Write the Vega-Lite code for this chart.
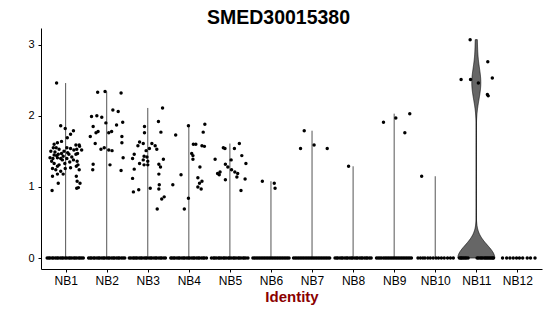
{
"$schema":"https://vega.github.io/schema/vega-lite/v6.json",
"width":501,"height":241,
"autosize":{"type":"none"},
"padding":{"left":41,"top":28,"right":8,"bottom":47},
"title":{"text":"SMED30015380","fontSize":19.5,"font":"Liberation Sans","fontWeight":"bold","color":"#000","anchor":"middle","frame":"group","baseline":"alphabetic","offset":5,"dx":-13,"dy":20},
"config":{"view":{"stroke":null},"axis":{"grid":false,"domainColor":"#000","domainWidth":1,"tickColor":"#000","tickSize":3,"tickWidth":1,"labelFont":"Liberation Sans","labelFontSize":11,"labelColor":"#000","titleFont":"Liberation Sans"}},
"data":{"values":[
{"c":"NB1","v":2.46,"j":-0.22},{"c":"NB1","v":1.86,"j":-0.12},{"c":"NB1","v":1.82,"j":-0.01},{"c":"NB1","v":1.79,"j":0.19},{"c":"NB1","v":1.74,"j":0.12},{"c":"NB1","v":1.69,"j":0.04},{"c":"NB1","v":1.64,"j":-0.1},{"c":"NB1","v":1.62,"j":-0.2},{"c":"NB1","v":1.6,"j":-0.28},{"c":"NB1","v":1.59,"j":0.25},{"c":"NB1","v":1.57,"j":0.34},{"c":"NB1","v":1.55,"j":-0.3},{"c":"NB1","v":1.55,"j":-0.23},{"c":"NB1","v":1.53,"j":-0.16},{"c":"NB1","v":1.55,"j":0.03},{"c":"NB1","v":1.54,"j":0.12},{"c":"NB1","v":1.53,"j":0.27},{"c":"NB1","v":1.5,"j":-0.36},{"c":"NB1","v":1.49,"j":-0.26},{"c":"NB1","v":1.46,"j":-0.18},{"c":"NB1","v":1.47,"j":-0.1},{"c":"NB1","v":1.43,"j":-0.06},{"c":"NB1","v":1.46,"j":0.08},{"c":"NB1","v":1.46,"j":0.25},{"c":"NB1","v":1.41,"j":-0.38},{"c":"NB1","v":1.4,"j":-0.31},{"c":"NB1","v":1.41,"j":-0.2},{"c":"NB1","v":1.4,"j":-0.12},{"c":"NB1","v":1.4,"j":0.03},{"c":"NB1","v":1.38,"j":0.19},{"c":"NB1","v":1.36,"j":0.28},{"c":"NB1","v":1.33,"j":-0.28},{"c":"NB1","v":1.31,"j":-0.16},{"c":"NB1","v":1.33,"j":-0.02},{"c":"NB1","v":1.26,"j":-0.32},{"c":"NB1","v":1.24,"j":-0.24},{"c":"NB1","v":1.22,"j":-0.12},{"c":"NB1","v":1.26,"j":-0.01},{"c":"NB1","v":1.27,"j":0.12},{"c":"NB1","v":1.29,"j":0.26},{"c":"NB1","v":1.31,"j":0.3},{"c":"NB1","v":1.15,"j":-0.32},{"c":"NB1","v":1.18,"j":-0.2},{"c":"NB1","v":1.18,"j":-0.06},{"c":"NB1","v":1.15,"j":0.26},{"c":"NB1","v":1.05,"j":-0.18},{"c":"NB1","v":1.08,"j":0.28},{"c":"NB1","v":0.99,"j":0.31},{"c":"NB1","v":1.59,"j":0.33},{"c":"NB1","v":1.52,"j":0.39},{"c":"NB1","v":1.47,"j":0.29},{"c":"NB1","v":1.24,"j":0.33},{"c":"NB1","v":1.05,"j":0.35},{"c":"NB1","v":0.98,"j":0.27},{"c":"NB1","v":1.44,"j":-0.22},{"c":"NB1","v":1.38,"j":-0.08},{"c":"NB1","v":1.35,"j":0.1},{"c":"NB1","v":1.48,"j":0.05},{"c":"NB1","v":1.42,"j":0.15},{"c":"NB1","v":1.5,"j":-0.04},{"c":"NB1","v":1.29,"j":-0.2},{"c":"NB1","v":1.52,"j":0.2},{"c":"NB1","v":1.36,"j":-0.34},{"c":"NB1","v":1.45,"j":-0.28},{"c":"NB1","v":0.95,"j":-0.33},
{"c":"NB2","v":2.33,"j":-0.22},{"c":"NB2","v":2.34,"j":-0.04},{"c":"NB2","v":2.32,"j":0.35},{"c":"NB2","v":2.08,"j":0.15},{"c":"NB2","v":2.06,"j":0.28},{"c":"NB2","v":1.99,"j":-0.37},{"c":"NB2","v":2.0,"j":-0.24},{"c":"NB2","v":1.98,"j":-0.12},{"c":"NB2","v":1.9,"j":-0.02},{"c":"NB2","v":1.91,"j":0.39},{"c":"NB2","v":1.87,"j":0.24},{"c":"NB2","v":1.85,"j":-0.33},{"c":"NB2","v":1.78,"j":-0.21},{"c":"NB2","v":1.76,"j":-0.26},{"c":"NB2","v":1.71,"j":-0.4},{"c":"NB2","v":1.76,"j":0.05},{"c":"NB2","v":1.78,"j":0.12},{"c":"NB2","v":1.71,"j":0.37},{"c":"NB2","v":1.62,"j":0.37},{"c":"NB2","v":1.61,"j":-0.28},{"c":"NB2","v":1.53,"j":-0.14},{"c":"NB2","v":1.55,"j":-0.06},{"c":"NB2","v":1.52,"j":0.05},{"c":"NB2","v":1.51,"j":0.13},{"c":"NB2","v":1.41,"j":0.4},{"c":"NB2","v":1.32,"j":-0.33},{"c":"NB2","v":1.24,"j":-0.34},{"c":"NB2","v":1.31,"j":0.08},{"c":"NB2","v":1.23,"j":0.35},
{"c":"NB3","v":2.11,"j":0.36},{"c":"NB3","v":1.92,"j":0.26},{"c":"NB3","v":1.77,"j":0.32},{"c":"NB3","v":1.85,"j":-0.08},{"c":"NB3","v":1.76,"j":-0.08},{"c":"NB3","v":1.63,"j":-0.2},{"c":"NB3","v":1.61,"j":-0.11},{"c":"NB3","v":1.58,"j":-0.24},{"c":"NB3","v":1.61,"j":0.1},{"c":"NB3","v":1.58,"j":0.18},{"c":"NB3","v":1.53,"j":0.22},{"c":"NB3","v":1.54,"j":0.04},{"c":"NB3","v":1.51,"j":-0.04},{"c":"NB3","v":1.46,"j":-0.33},{"c":"NB3","v":1.4,"j":-0.37},{"c":"NB3","v":1.43,"j":-0.09},{"c":"NB3","v":1.42,"j":-0.02},{"c":"NB3","v":1.38,"j":-0.11},{"c":"NB3","v":1.36,"j":0.0},{"c":"NB3","v":1.33,"j":-0.2},{"c":"NB3","v":1.31,"j":-0.09},{"c":"NB3","v":1.31,"j":0.0},{"c":"NB3","v":1.32,"j":0.27},{"c":"NB3","v":1.39,"j":0.38},{"c":"NB3","v":1.28,"j":0.31},{"c":"NB3","v":1.25,"j":-0.33},{"c":"NB3","v":1.12,"j":-0.37},{"c":"NB3","v":1.18,"j":0.27},{"c":"NB3","v":0.98,"j":0.06},{"c":"NB3","v":0.93,"j":-0.35},{"c":"NB3","v":0.96,"j":-0.22},{"c":"NB3","v":1.03,"j":0.28},{"c":"NB3","v":0.97,"j":0.27},{"c":"NB3","v":0.86,"j":0.4},{"c":"NB3","v":0.83,"j":0.34},{"c":"NB3","v":0.69,"j":0.23},
{"c":"NB4","v":1.73,"j":-0.32},{"c":"NB4","v":1.86,"j":-0.01},{"c":"NB4","v":1.88,"j":0.39},{"c":"NB4","v":1.77,"j":0.35},{"c":"NB4","v":1.6,"j":0.11},{"c":"NB4","v":1.6,"j":0.17},{"c":"NB4","v":1.58,"j":0.32},{"c":"NB4","v":1.57,"j":0.38},{"c":"NB4","v":1.47,"j":0.07},{"c":"NB4","v":1.44,"j":0.1},{"c":"NB4","v":1.39,"j":0.1},{"c":"NB4","v":1.28,"j":0.27},{"c":"NB4","v":1.17,"j":-0.19},{"c":"NB4","v":1.13,"j":0.22},{"c":"NB4","v":1.08,"j":0.32},{"c":"NB4","v":1.05,"j":0.26},{"c":"NB4","v":0.97,"j":0.3},{"c":"NB4","v":1.0,"j":0.22},{"c":"NB4","v":1.03,"j":-0.39},{"c":"NB4","v":0.84,"j":-0.01},{"c":"NB4","v":0.69,"j":-0.11},
{"c":"NB5","v":1.39,"j":-0.36},{"c":"NB5","v":1.55,"j":-0.16},{"c":"NB5","v":1.54,"j":-0.12},{"c":"NB5","v":1.54,"j":0.11},{"c":"NB5","v":1.61,"j":0.23},{"c":"NB5","v":1.44,"j":0.29},{"c":"NB5","v":1.32,"j":-0.11},{"c":"NB5","v":1.28,"j":-0.05},{"c":"NB5","v":1.24,"j":0.04},{"c":"NB5","v":1.21,"j":0.12},{"c":"NB5","v":1.19,"j":0.19},{"c":"NB5","v":1.14,"j":0.17},{"c":"NB5","v":1.38,"j":0.03},{"c":"NB5","v":1.33,"j":0.39},{"c":"NB5","v":1.19,"j":-0.3},{"c":"NB5","v":1.17,"j":-0.26},{"c":"NB5","v":1.21,"j":-0.24},{"c":"NB5","v":1.1,"j":-0.11},{"c":"NB5","v":1.11,"j":0.37},{"c":"NB5","v":0.95,"j":0.27},
{"c":"NB6","v":1.08,"j":-0.21},{"c":"NB6","v":1.05,"j":0.08},{"c":"NB6","v":0.98,"j":0.1},
{"c":"NB7","v":1.79,"j":-0.19},{"c":"NB7","v":1.54,"j":-0.28},{"c":"NB7","v":1.59,"j":0.05},{"c":"NB7","v":1.54,"j":0.37},
{"c":"NB8","v":1.29,"j":-0.11},
{"c":"NB9","v":1.91,"j":-0.26},{"c":"NB9","v":1.97,"j":0.04},{"c":"NB9","v":2.03,"j":0.38},{"c":"NB9","v":1.76,"j":0.26},
{"c":"NB10","v":1.15,"j":-0.33},
{"c":"NB11","v":3.07,"j":-0.15},{"c":"NB11","v":2.51,"j":-0.37},{"c":"NB11","v":2.51,"j":-0.14},{"c":"NB11","v":2.46,"j":0.05},{"c":"NB11","v":2.76,"j":0.28},{"c":"NB11","v":2.53,"j":0.39},{"c":"NB11","v":2.3,"j":0.27},{"c":"NB11","v":2.28,"j":0.29},
{"c":"NB1","v":0,"j":-0.45},{"c":"NB1","v":0,"j":-0.41},{"c":"NB1","v":0,"j":-0.38},{"c":"NB1","v":0,"j":-0.33},{"c":"NB1","v":0,"j":-0.3},{"c":"NB1","v":0,"j":-0.25},{"c":"NB1","v":0,"j":-0.21},{"c":"NB1","v":0,"j":-0.18},{"c":"NB1","v":0,"j":-0.13},{"c":"NB1","v":0,"j":-0.09},{"c":"NB1","v":0,"j":-0.06},{"c":"NB1","v":0,"j":-0.01},{"c":"NB1","v":0,"j":0.03},{"c":"NB1","v":0,"j":0.08},{"c":"NB1","v":0,"j":0.11},{"c":"NB1","v":0,"j":0.15},{"c":"NB1","v":0,"j":0.2},{"c":"NB1","v":0,"j":0.23},{"c":"NB1","v":0,"j":0.27},{"c":"NB1","v":0,"j":0.32},{"c":"NB1","v":0,"j":0.35},{"c":"NB1","v":0,"j":0.39},{"c":"NB1","v":0,"j":0.43},
{"c":"NB2","v":0,"j":-0.44},{"c":"NB2","v":0,"j":-0.4},{"c":"NB2","v":0,"j":-0.37},{"c":"NB2","v":0,"j":-0.32},{"c":"NB2","v":0,"j":-0.29},{"c":"NB2","v":0,"j":-0.24},{"c":"NB2","v":0,"j":-0.2},{"c":"NB2","v":0,"j":-0.17},{"c":"NB2","v":0,"j":-0.12},{"c":"NB2","v":0,"j":-0.08},{"c":"NB2","v":0,"j":-0.05},{"c":"NB2","v":0,"j":0.0},{"c":"NB2","v":0,"j":0.04},{"c":"NB2","v":0,"j":0.07},{"c":"NB2","v":0,"j":0.12},{"c":"NB2","v":0,"j":0.16},{"c":"NB2","v":0,"j":0.19},{"c":"NB2","v":0,"j":0.24},{"c":"NB2","v":0,"j":0.28},{"c":"NB2","v":0,"j":0.31},{"c":"NB2","v":0,"j":0.36},{"c":"NB2","v":0,"j":0.4},{"c":"NB2","v":0,"j":0.44},
{"c":"NB3","v":0,"j":-0.45},{"c":"NB3","v":0,"j":-0.41},{"c":"NB3","v":0,"j":-0.36},{"c":"NB3","v":0,"j":-0.33},{"c":"NB3","v":0,"j":-0.29},{"c":"NB3","v":0,"j":-0.26},{"c":"NB3","v":0,"j":-0.21},{"c":"NB3","v":0,"j":-0.17},{"c":"NB3","v":0,"j":-0.14},{"c":"NB3","v":0,"j":-0.09},{"c":"NB3","v":0,"j":-0.05},{"c":"NB3","v":0,"j":-0.02},{"c":"NB3","v":0,"j":0.03},{"c":"NB3","v":0,"j":0.07},{"c":"NB3","v":0,"j":0.1},{"c":"NB3","v":0,"j":0.15},{"c":"NB3","v":0,"j":0.19},{"c":"NB3","v":0,"j":0.22},{"c":"NB3","v":0,"j":0.27},{"c":"NB3","v":0,"j":0.31},{"c":"NB3","v":0,"j":0.34},{"c":"NB3","v":0,"j":0.39},{"c":"NB3","v":0,"j":0.43},
{"c":"NB4","v":0,"j":-0.44},{"c":"NB4","v":0,"j":-0.41},{"c":"NB4","v":0,"j":-0.37},{"c":"NB4","v":0,"j":-0.34},{"c":"NB4","v":0,"j":-0.29},{"c":"NB4","v":0,"j":-0.25},{"c":"NB4","v":0,"j":-0.22},{"c":"NB4","v":0,"j":-0.17},{"c":"NB4","v":0,"j":-0.13},{"c":"NB4","v":0,"j":-0.1},{"c":"NB4","v":0,"j":-0.05},{"c":"NB4","v":0,"j":-0.01},{"c":"NB4","v":0,"j":0.02},{"c":"NB4","v":0,"j":0.07},{"c":"NB4","v":0,"j":0.11},{"c":"NB4","v":0,"j":0.14},{"c":"NB4","v":0,"j":0.19},{"c":"NB4","v":0,"j":0.23},{"c":"NB4","v":0,"j":0.26},{"c":"NB4","v":0,"j":0.31},{"c":"NB4","v":0,"j":0.35},{"c":"NB4","v":0,"j":0.38},{"c":"NB4","v":0,"j":0.43},
{"c":"NB5","v":0,"j":-0.45},{"c":"NB5","v":0,"j":-0.4},{"c":"NB5","v":0,"j":-0.37},{"c":"NB5","v":0,"j":-0.33},{"c":"NB5","v":0,"j":-0.28},{"c":"NB5","v":0,"j":-0.25},{"c":"NB5","v":0,"j":-0.21},{"c":"NB5","v":0,"j":-0.16},{"c":"NB5","v":0,"j":-0.13},{"c":"NB5","v":0,"j":-0.09},{"c":"NB5","v":0,"j":-0.04},{"c":"NB5","v":0,"j":-0.01},{"c":"NB5","v":0,"j":0.03},{"c":"NB5","v":0,"j":0.08},{"c":"NB5","v":0,"j":0.11},{"c":"NB5","v":0,"j":0.15},{"c":"NB5","v":0,"j":0.2},{"c":"NB5","v":0,"j":0.23},{"c":"NB5","v":0,"j":0.27},{"c":"NB5","v":0,"j":0.32},{"c":"NB5","v":0,"j":0.35},{"c":"NB5","v":0,"j":0.39},{"c":"NB5","v":0,"j":0.44},
{"c":"NB6","v":0,"j":-0.44},{"c":"NB6","v":0,"j":-0.4},{"c":"NB6","v":0,"j":-0.36},{"c":"NB6","v":0,"j":-0.32},{"c":"NB6","v":0,"j":-0.28},{"c":"NB6","v":0,"j":-0.24},{"c":"NB6","v":0,"j":-0.2},{"c":"NB6","v":0,"j":-0.16},{"c":"NB6","v":0,"j":-0.12},{"c":"NB6","v":0,"j":-0.08},{"c":"NB6","v":0,"j":-0.04},{"c":"NB6","v":0,"j":0.0},{"c":"NB6","v":0,"j":0.04},{"c":"NB6","v":0,"j":0.08},{"c":"NB6","v":0,"j":0.12},{"c":"NB6","v":0,"j":0.16},{"c":"NB6","v":0,"j":0.2},{"c":"NB6","v":0,"j":0.24},{"c":"NB6","v":0,"j":0.28},{"c":"NB6","v":0,"j":0.32},{"c":"NB6","v":0,"j":0.36},{"c":"NB6","v":0,"j":0.4},{"c":"NB6","v":0,"j":0.44},
{"c":"NB7","v":0,"j":-0.45},{"c":"NB7","v":0,"j":-0.41},{"c":"NB7","v":0,"j":-0.37},{"c":"NB7","v":0,"j":-0.33},{"c":"NB7","v":0,"j":-0.29},{"c":"NB7","v":0,"j":-0.25},{"c":"NB7","v":0,"j":-0.21},{"c":"NB7","v":0,"j":-0.17},{"c":"NB7","v":0,"j":-0.13},{"c":"NB7","v":0,"j":-0.09},{"c":"NB7","v":0,"j":-0.05},{"c":"NB7","v":0,"j":-0.01},{"c":"NB7","v":0,"j":0.03},{"c":"NB7","v":0,"j":0.07},{"c":"NB7","v":0,"j":0.11},{"c":"NB7","v":0,"j":0.15},{"c":"NB7","v":0,"j":0.19},{"c":"NB7","v":0,"j":0.23},{"c":"NB7","v":0,"j":0.27},{"c":"NB7","v":0,"j":0.31},{"c":"NB7","v":0,"j":0.35},{"c":"NB7","v":0,"j":0.39},{"c":"NB7","v":0,"j":0.43},
{"c":"NB8","v":0,"j":-0.44},{"c":"NB8","v":0,"j":-0.4},{"c":"NB8","v":0,"j":-0.37},{"c":"NB8","v":0,"j":-0.32},{"c":"NB8","v":0,"j":-0.28},{"c":"NB8","v":0,"j":-0.25},{"c":"NB8","v":0,"j":-0.2},{"c":"NB8","v":0,"j":-0.16},{"c":"NB8","v":0,"j":-0.13},{"c":"NB8","v":0,"j":-0.08},{"c":"NB8","v":0,"j":-0.04},{"c":"NB8","v":0,"j":-0.01},{"c":"NB8","v":0,"j":0.04},{"c":"NB8","v":0,"j":0.08},{"c":"NB8","v":0,"j":0.11},{"c":"NB8","v":0,"j":0.16},{"c":"NB8","v":0,"j":0.2},{"c":"NB8","v":0,"j":0.23},{"c":"NB8","v":0,"j":0.28},{"c":"NB8","v":0,"j":0.32},{"c":"NB8","v":0,"j":0.35},{"c":"NB8","v":0,"j":0.4},{"c":"NB8","v":0,"j":0.44},
{"c":"NB9","v":0,"j":-0.43},{"c":"NB9","v":0,"j":-0.39},{"c":"NB9","v":0,"j":-0.35},{"c":"NB9","v":0,"j":-0.31},{"c":"NB9","v":0,"j":-0.26},{"c":"NB9","v":0,"j":-0.22},{"c":"NB9","v":0,"j":-0.18},{"c":"NB9","v":0,"j":-0.14},{"c":"NB9","v":0,"j":-0.1},{"c":"NB9","v":0,"j":-0.06},{"c":"NB9","v":0,"j":-0.02},{"c":"NB9","v":0,"j":0.02},{"c":"NB9","v":0,"j":0.06},{"c":"NB9","v":0,"j":0.1},{"c":"NB9","v":0,"j":0.14},{"c":"NB9","v":0,"j":0.18},{"c":"NB9","v":0,"j":0.22},{"c":"NB9","v":0,"j":0.26},{"c":"NB9","v":0,"j":0.3},{"c":"NB9","v":0,"j":0.34},{"c":"NB9","v":0,"j":0.38},{"c":"NB9","v":0,"j":0.42},
{"c":"NB10","v":0,"j":-0.42},{"c":"NB10","v":0,"j":-0.36},{"c":"NB10","v":0,"j":-0.3},{"c":"NB10","v":0,"j":-0.25},{"c":"NB10","v":0,"j":-0.18},{"c":"NB10","v":0,"j":-0.12},{"c":"NB10","v":0,"j":-0.05},{"c":"NB10","v":0,"j":0.02},{"c":"NB10","v":0,"j":0.08},{"c":"NB10","v":0,"j":0.15},{"c":"NB10","v":0,"j":0.22},{"c":"NB10","v":0,"j":0.3},{"c":"NB10","v":0,"j":0.37},{"c":"NB10","v":0,"j":0.44},
{"c":"NB11","v":0,"j":-0.41},{"c":"NB11","v":0,"j":-0.38},{"c":"NB11","v":0,"j":-0.36},{"c":"NB11","v":0,"j":-0.33},{"c":"NB11","v":0,"j":-0.3},{"c":"NB11","v":0,"j":-0.27},{"c":"NB11","v":0,"j":-0.24},{"c":"NB11","v":0,"j":-0.2},{"c":"NB11","v":0,"j":0.02},{"c":"NB11","v":0,"j":0.05},{"c":"NB11","v":0,"j":0.09},{"c":"NB11","v":0,"j":0.12},{"c":"NB11","v":0,"j":0.15},{"c":"NB11","v":0,"j":0.19},{"c":"NB11","v":0,"j":0.22},{"c":"NB11","v":0,"j":0.25},{"c":"NB11","v":0,"j":0.28},{"c":"NB11","v":0,"j":0.31},{"c":"NB11","v":0,"j":0.34},{"c":"NB11","v":0,"j":0.37},{"c":"NB11","v":0,"j":0.4},{"c":"NB11","v":0,"j":0.42},
{"c":"NB12","v":0,"j":-0.36},{"c":"NB12","v":0,"j":-0.26},{"c":"NB12","v":0,"j":-0.18},{"c":"NB12","v":0,"j":-0.1},{"c":"NB12","v":0,"j":-0.02},{"c":"NB12","v":0,"j":0.05},{"c":"NB12","v":0,"j":0.13},{"c":"NB12","v":0,"j":0.24},{"c":"NB12","v":0,"j":0.32},{"c":"NB12","v":0,"j":0.43}
]},
"transform":[{"calculate":"toNumber(substring(datum.c, 2))","as":"idx"}],
"layer":[
{"mark":{"type":"rule","color":"#555555","strokeWidth":1},
 "encoding":{
  "x":{"field":"idx","type":"quantitative","title":"Identity","scale":{"domain":[0.4,12.6],"nice":false,"zero":false},
       "axis":{"values":[1,2,3,4,5,6,7,8,9,10,11,12],"labelExpr":"'NB' + datum.value","labelPadding":3,"labelFontSize":12,"titleFontSize":15,"titleFontWeight":"bold","titleColor":"#8B0000","titlePadding":3}},
  "y":{"aggregate":"min","field":"v","type":"quantitative","title":null,"scale":{"domain":[-0.154,3.234],"nice":false,"zero":false},
       "axis":{"values":[0,1,2,3],"format":"d","labelPadding":4}},
  "y2":{"aggregate":"max","field":"v"}}},
{"transform":[
  {"filter":"datum.c == 'NB11'"},
  {"joinaggregate":[{"op":"max","field":"v","as":"vmax"}],"groupby":["c"]},
  {"density":"v","groupby":["c","vmax"],"bandwidth":0.18,"extent":[0,3.2],"steps":321},
  {"filter":"datum.value <= datum.vmax + 0.005"},
  {"joinaggregate":[{"op":"max","field":"density","as":"dmax"}],"groupby":["c"]},
  {"calculate":"toNumber(substring(datum.c, 2))","as":"ci"},
  {"calculate":"datum.ci - 0.45 * datum.density / datum.dmax","as":"lo"},
  {"calculate":"datum.ci + 0.45 * datum.density / datum.dmax","as":"hi"}],
 "mark":{"type":"area","orient":"horizontal","fill":"#666666","stroke":"#000","strokeWidth":0.6},
 "encoding":{
  "y":{"field":"value","type":"quantitative","title":null,"scale":{"domain":[-0.154,3.234],"nice":false,"zero":false}},
  "x":{"field":"lo","type":"quantitative","title":"Identity","scale":{"domain":[0.4,12.6],"nice":false,"zero":false}},
  "x2":{"field":"hi"}}},
{"transform":[{"calculate":"datum.idx + datum.j","as":"xj"}],
 "mark":{"type":"circle","size":12,"color":"#000","opacity":1},
 "encoding":{
  "x":{"field":"xj","type":"quantitative","title":"Identity","scale":{"domain":[0.4,12.6],"nice":false,"zero":false}},
  "y":{"field":"v","type":"quantitative","title":null,"scale":{"domain":[-0.154,3.234],"nice":false,"zero":false}}}}
]
}
